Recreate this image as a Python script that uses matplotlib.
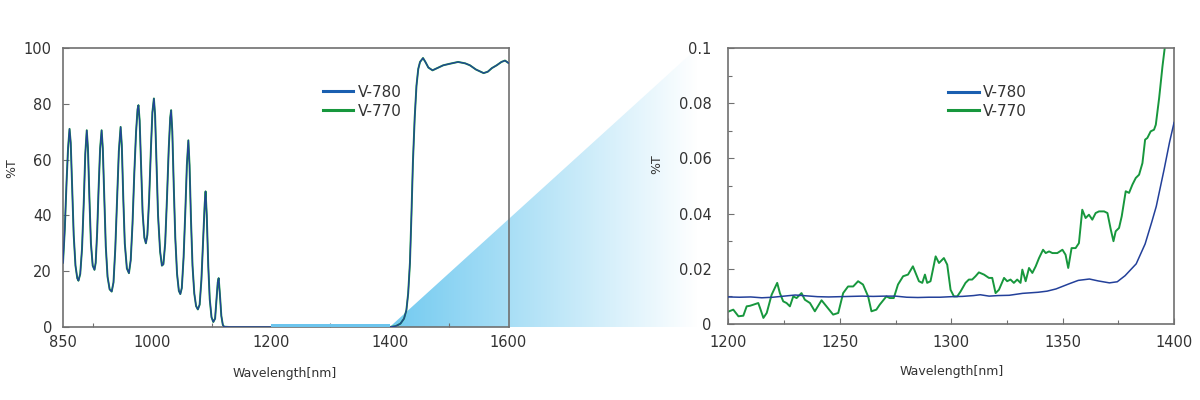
import matplotlib
matplotlib.use("Agg")
import matplotlib.pyplot as plt
from matplotlib.lines import Line2D
from matplotlib.patches import Polygon, Rectangle
from matplotlib.ticker import MultipleLocator, FixedLocator, FuncFormatter
from matplotlib.colors import LinearSegmentedColormap
import numpy as np

# === DATA ===
# left panel: full spectrum, both instruments overlap
wide_nm = [850, 853, 856, 858.5, 861, 863, 865.5, 868, 871, 874, 876, 879, 882, 885,
           887.5, 890, 892, 894.5, 897, 900, 903, 905, 907.5, 910, 912.5, 915, 917,
           919.5, 922, 925, 928.5, 932, 935, 938, 941, 944, 947, 949, 951.5, 954,
           957.5, 961, 964, 967, 970, 973, 975.5, 977, 979, 981.5, 984, 987, 989.5,
           992, 995, 998, 1000.5, 1003, 1005, 1007.5, 1010, 1013.5, 1016.5, 1019,
           1022, 1025, 1028, 1030.5, 1032, 1034, 1036.5, 1039, 1042, 1045, 1047.5,
           1050, 1053, 1056, 1058.5, 1061, 1063, 1065.5, 1068, 1071, 1074, 1077,
           1080, 1083, 1086, 1088.5, 1090, 1092, 1094.5, 1097, 1100, 1103, 1106,
           1108.5, 1110.5, 1112, 1114, 1116.5, 1119, 1121, 1130, 1400, 1410, 1418,
           1424, 1428, 1431, 1434, 1436.5, 1439, 1442, 1445, 1448, 1451, 1456, 1460,
           1465, 1472, 1480, 1490, 1500, 1515, 1527, 1535, 1545, 1558, 1565, 1572,
           1580, 1588, 1594, 1600]
wide_t = [23, 35, 52, 64, 71, 66, 50, 33, 22, 17.5, 16.6, 19, 28, 45,
          62, 70.5, 64, 46, 30, 22, 20.5, 23, 34, 50, 64, 70.5, 64,
          46, 29, 18, 13.5, 12.7, 16, 28, 46, 63, 71.7, 65, 46, 30,
          21, 19.3, 24, 37, 55, 70, 78, 79.5, 74, 57, 41, 32, 30,
          33, 46, 64, 77, 81.9, 76, 58, 40, 27, 22, 22.5,
          30, 46, 64, 75, 77.7, 70, 50, 32, 19, 13, 11.8,
          14, 25, 42, 58, 66.9, 58, 38, 22, 12, 7.5, 6.3,
          8, 17, 32, 44, 48.6, 40, 22, 10, 3.5, 1.8, 3,
          10, 16, 17.5, 12, 4, 0.8, 0.1, 0, 0, 0.3, 1.2,
          3, 6, 12, 23, 40, 59, 75, 86.5, 92.5, 95, 96.4, 95,
          93, 92, 92.8, 93.8, 94.3, 95, 94.5, 93.8, 92.3, 91, 91.5, 92.8,
          93.8, 95, 95.5, 94.6]

# right panel: zoom of 1200-1400 nm
v780_nm = [1200, 1205, 1210, 1215, 1220, 1225, 1230, 1235, 1240, 1245, 1250, 1255,
           1260, 1265, 1270, 1275, 1280, 1285, 1290, 1295, 1300, 1305, 1310, 1313,
           1317, 1321, 1326, 1332, 1339, 1343, 1347, 1353, 1357, 1362, 1366, 1371,
           1374.5, 1378, 1383, 1387, 1390, 1392, 1395.5, 1398, 1400]
v780_t = [0.0098, 0.0097, 0.0098, 0.0095, 0.0097, 0.0101, 0.0105, 0.0102, 0.0099,
          0.0098, 0.0099, 0.0100, 0.0101, 0.0100, 0.0101, 0.0101, 0.0097, 0.0096,
          0.0097, 0.0097, 0.0099, 0.0100, 0.0103, 0.0106, 0.0101, 0.0103, 0.0104,
          0.0111, 0.0115, 0.0119, 0.0127, 0.0146, 0.0158, 0.0163, 0.0156, 0.0149,
          0.0153, 0.0175, 0.0218, 0.0290, 0.0370, 0.0426, 0.0559, 0.0660, 0.0730]

v770_nm = [1200, 1202.2, 1204.5, 1206.7, 1208.2, 1209.7, 1211.2, 1213.4, 1214.2,
           1215.7, 1217.2, 1219.4, 1221.9, 1223.1, 1224.6, 1226.1, 1227.6, 1229.1,
           1230.6, 1232.8, 1234.3, 1236.6, 1238.8, 1241.8, 1244.0, 1247.0, 1249.3,
           1251.5, 1253.7, 1256.0, 1258.2, 1260.4, 1262.7, 1264.2, 1266.4, 1267.9,
           1270.9, 1272.4, 1274.2, 1276.1, 1278.4, 1280.6, 1282.8, 1284.3, 1285.5,
           1287.0, 1288.2, 1289.2, 1290.7, 1293.0, 1294.5, 1296.7, 1298.2, 1299.7,
           1301.2, 1302.7, 1304.2, 1306.4, 1307.9, 1309.4, 1310.9, 1312.4, 1314.7,
           1316.9, 1318.4, 1319.9, 1321.4, 1323.7, 1325.1, 1326.6, 1328.1, 1329.6,
           1331.1, 1331.9, 1333.4, 1334.9, 1336.4, 1337.9, 1339.4, 1341.2, 1342.4,
           1343.9, 1345.4, 1347.6, 1349.9, 1351.3, 1352.5, 1354.0, 1355.8, 1357.3,
           1358.8, 1360.3, 1361.8, 1363.3, 1364.8, 1366.3, 1368.6, 1370.1, 1371.6,
           1372.8, 1373.8, 1375.3, 1376.5, 1378.3, 1379.8, 1381.3, 1382.8, 1384.3,
           1385.8, 1387.0, 1388.0, 1389.5, 1391.0, 1391.8, 1393.3, 1394.8, 1395.8,
           1397.0]
v770_t = [0.0045, 0.0052, 0.0028, 0.0030, 0.0064, 0.0066, 0.0070, 0.0076, 0.0058,
          0.0022, 0.0040, 0.0106, 0.0149, 0.0112, 0.0082, 0.0076, 0.0064, 0.0100,
          0.0094, 0.0112, 0.0088, 0.0076, 0.0046, 0.0086, 0.0064, 0.0034, 0.0040,
          0.0112, 0.0136, 0.0136, 0.0155, 0.0143, 0.0100, 0.0046, 0.0052, 0.0070,
          0.0100, 0.0094, 0.0094, 0.0143, 0.0173, 0.0179, 0.0209, 0.0179, 0.0155,
          0.0149, 0.0179, 0.0149, 0.0155, 0.0245, 0.0221, 0.0239, 0.0215, 0.0124,
          0.0100, 0.0100, 0.0118, 0.0149, 0.0161, 0.0161, 0.0173, 0.0187, 0.0179,
          0.0167, 0.0167, 0.0112, 0.0124, 0.0167, 0.0155, 0.0161, 0.0149, 0.0161,
          0.0149, 0.0197, 0.0155, 0.0203, 0.0185, 0.0209, 0.0239, 0.0269, 0.0257,
          0.0263, 0.0257, 0.0257, 0.0269, 0.0251, 0.0203, 0.0275, 0.0275, 0.0293,
          0.0414, 0.0384, 0.0396, 0.0378, 0.0402, 0.0408, 0.0408, 0.0402, 0.0342,
          0.0300, 0.0336, 0.0348, 0.0390, 0.0481, 0.0475, 0.0505, 0.0529, 0.0541,
          0.0583, 0.0668, 0.0674, 0.0698, 0.0704, 0.0722, 0.0819, 0.0934, 0.1000,
          0.1080]

labels = ["V-780", "V-770"]

# === STYLE ===
BLUE = "#23409a"
BLUE_LEG = "#1a5fb0"
GREEN = "#17973d"
TXT = "#333333"
FRAME = "#707070"

plt.rcParams['font.family'] = ['DejaVu Sans']

fig = plt.figure(figsize=(12, 4), dpi=100)

# background axes for the zoom highlight wedge
bg = fig.add_axes([0, 0, 1, 1], zorder=0)
bg.set_xlim(0, 1)
bg.set_ylim(0, 1)
bg.axis("off")

ax1 = fig.add_axes([0.0525, 0.1825, 0.3713, 0.6975], zorder=1)
ax2 = fig.add_axes([0.607, 0.19, 0.3714, 0.69], zorder=1)
ax1.set_facecolor("none")
ax2.set_facecolor("none")


def style_axes(ax):
    for sp in ax.spines.values():
        sp.set_color(FRAME)
        sp.set_linewidth(1.2)
    ax.tick_params(which="both", direction="in", colors=FRAME, labelcolor=TXT,
                   labelsize=10.5, width=0.8)
    ax.tick_params(which="major", length=4)
    ax.tick_params(which="minor", length=3)


# ---- left panel ----
ax1.plot(wide_nm, wide_t, color=GREEN, lw=1.4, zorder=2)
ax1.plot(wide_nm, wide_t, color=BLUE, lw=0.9, zorder=3)
ax1.set_xlim(850, 1600)
ax1.set_ylim(0, 100)
ax1.xaxis.set_major_locator(FixedLocator([850, 1000, 1200, 1400, 1600]))
ax1.xaxis.set_minor_locator(FixedLocator(list(range(900, 1600, 100))))
ax1.yaxis.set_major_locator(MultipleLocator(20))
style_axes(ax1)
ax1.tick_params(axis="x", which="major", length=0, pad=6)
ax1.tick_params(axis="y", pad=8)
ax1.set_ylabel("%T", fontsize=9, color=TXT)
ax1.yaxis.set_label_coords(-0.1, 0.57)
ax1.set_xlabel("Wavelength[nm]", fontsize=9, color=TXT)
ax1.xaxis.set_label_coords(0.498, -0.143)

# highlighted 1200-1400 band on the baseline
ax1.add_patch(Rectangle((1200, 0), 200, 1.2, color="#6cc5ee", lw=0, zorder=4))

# ---- right panel ----
ax2.plot(v770_nm, v770_t, color=GREEN, lw=1.4, zorder=2)
ax2.plot(v780_nm, v780_t, color=BLUE, lw=1.1, zorder=3)
ax2.set_xlim(1200, 1400)
ax2.set_ylim(0, 0.1)
ax2.xaxis.set_major_locator(MultipleLocator(50))
ax2.xaxis.set_minor_locator(MultipleLocator(25))
ax2.yaxis.set_major_locator(MultipleLocator(0.02))
ax2.yaxis.set_minor_locator(MultipleLocator(0.01))
ax2.yaxis.set_major_formatter(FuncFormatter(lambda v, p: "%g" % round(v, 3)))
style_axes(ax2)
ax2.tick_params(axis="x", pad=8)
ax2.tick_params(axis="y", pad=12)
ax2.set_ylabel("%T", fontsize=9, color=TXT)
ax2.yaxis.set_label_coords(-0.146, 0.58)
ax2.set_xlabel("Wavelength[nm]", fontsize=9, color=TXT)
ax2.xaxis.set_label_coords(0.50, -0.149)

# legends
handles = [Line2D([], [], color=BLUE_LEG, lw=2.2), Line2D([], [], color=GREEN, lw=2.2)]
for ax, anchor in ((ax1, (0.583, 0.868)), (ax2, (0.493, 0.866))):
    leg = ax.legend(handles, labels, loc="upper left", bbox_to_anchor=anchor,
                    frameon=False, fontsize=11, handlelength=2.0, handletextpad=0.3,
                    labelspacing=0.25, borderpad=0, borderaxespad=0)
    for t in leg.get_texts():
        t.set_color(TXT)

# ---- zoom wedge from left band to right panel ----
to_fig = fig.transFigure.inverted()
p_start = to_fig.transform(ax1.transData.transform((1400, 0)))
p_top = to_fig.transform(ax2.transData.transform((1200, 0.1)))
x_end = p_top[0] - 0.026
wedge = Polygon([(p_start[0], p_start[1]), (x_end, p_top[1]), (x_end, p_start[1])],
                closed=True, transform=bg.transData, facecolor="none", edgecolor="none")
bg.add_patch(wedge)
grad = np.linspace(0, 1, 256).reshape(1, -1)
cmap = LinearSegmentedColormap.from_list("fade", ["#72caf0", "#ffffff"])
img = bg.imshow(grad, cmap=cmap, aspect="auto",
                extent=(p_start[0], x_end, p_start[1], p_top[1]), zorder=0)
img.set_clip_path(wedge)

fig.savefig("out.png", dpi=100)
